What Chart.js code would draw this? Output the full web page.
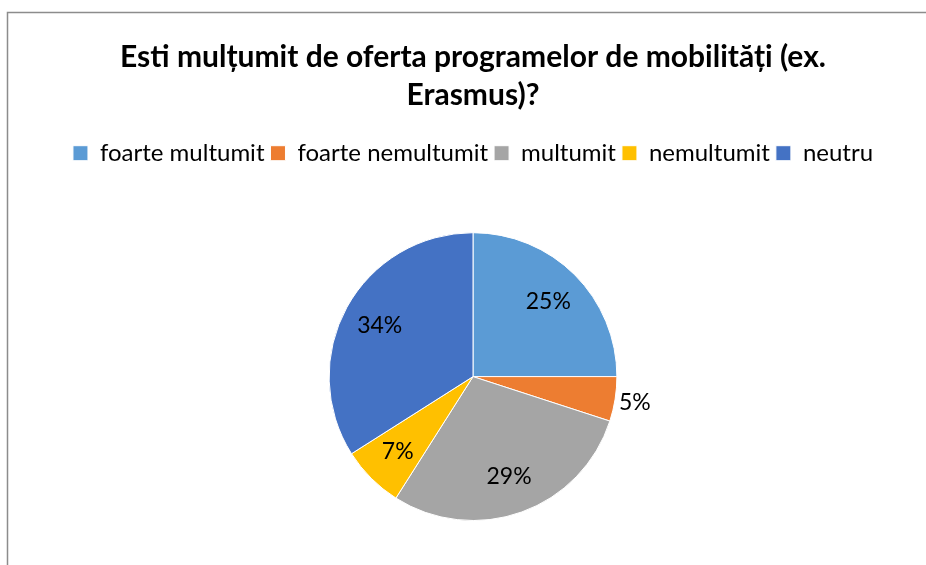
<!DOCTYPE html>
<html>
<head>
<meta charset="utf-8">
<script src="https://cdn.jsdelivr.net/npm/chart.js@4"></script>
<style>
  html, body { margin: 0; padding: 0; background: #fff; }
  #wrap { position: relative; width: 926px; height: 565px; }
</style>
</head>
<body>
<div id="wrap"><canvas id="pieChart" width="926" height="565"></canvas></div>
<script>
// Chart data
const titleLines = ['Esti mulțumit de oferta programelor de mobilități (ex.', 'Erasmus)?'];
const categories = ['foarte multumit', 'foarte nemultumit', 'multumit', 'nemultumit', 'neutru'];
const shares = [25, 5, 29, 7, 34];
const sliceColors = ['#5B9BD5', '#ED7D31', '#A5A5A5', '#FFC000', '#4472C4'];
const outsideLabels = [false, true, false, false, false];

const FONT = 'Lato, "Open Sans", sans-serif';

// Frame lines like the original chart area border
const framePlugin = {
    id: 'frame',
    beforeDraw(chart) {
        const ctx = chart.ctx;
        ctx.save();
        ctx.strokeStyle = '#8c8c8c';
        ctx.lineWidth = 1.5;
        ctx.beginPath();
        ctx.moveTo(7.5, chart.height);
        ctx.lineTo(7.5, 12.5);
        ctx.lineTo(chart.width, 12.5);
        ctx.stroke();
        ctx.restore();
    }
};

// Extra space under the legend so the pie sits lower
const legendGapPlugin = {
    id: 'legendGap',
    beforeInit(chart) {
        const origFit = chart.legend.fit;
        chart.legend.fit = function () {
            origFit.bind(chart.legend)();
            this.height += 57;
        };
    }
};

// Percent labels on the slices
const sliceLabelPlugin = {
    id: 'sliceLabels',
    afterDatasetsDraw(chart) {
        const ctx = chart.ctx;
        const meta = chart.getDatasetMeta(0);
        ctx.save();
        ctx.font = '23px ' + FONT;
        ctx.fillStyle = '#000';
        ctx.textAlign = 'center';
        ctx.textBaseline = 'middle';
        meta.data.forEach((arc, i) => {
            const p = arc.getProps(['x', 'y', 'startAngle', 'endAngle', 'outerRadius'], true);
            const mid = (p.startAngle + p.endAngle) / 2;
            const r = outsideLabels[i] ? p.outerRadius + 20 : p.outerRadius * 0.74;
            ctx.fillText(shares[i] + '%', p.x + Math.cos(mid) * r, p.y + Math.sin(mid) * r);
        });
        ctx.restore();
    }
};

new Chart(document.getElementById('pieChart'), {
    type: 'pie',
    data: {
        labels: categories,
        datasets: [{
            data: shares,
            backgroundColor: sliceColors,
            borderColor: '#fff',
            borderWidth: 1
        }]
    },
    options: {
        responsive: false,
        animation: false,
        layout: { padding: { left: 20, right: 0, top: 0, bottom: 44 } },
        plugins: {
            title: {
                display: true,
                text: titleLines,
                color: '#000',
                font: { family: FONT, size: 30, weight: 'bold', lineHeight: 1.27 },
                padding: { top: 38, bottom: 21 }
            },
            legend: {
                position: 'top',
                labels: {
                    color: '#000',
                    font: { family: FONT, size: 24 },
                    boxWidth: 15,
                    boxHeight: 15,
                    padding: 6
                }
            },
            tooltip: { enabled: false }
        }
    },
    plugins: [framePlugin, legendGapPlugin, sliceLabelPlugin]
});
</script>
</body>
</html>
